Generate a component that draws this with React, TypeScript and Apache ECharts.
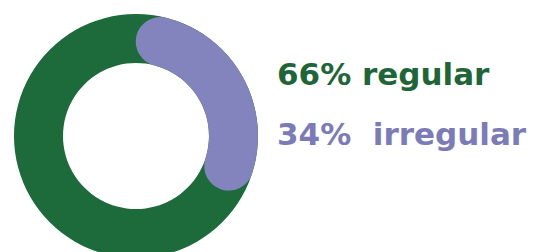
import React, { useEffect, useRef } from "react";
import * as echarts from "echarts";

const categories = ["regular", "irregular"];
const percents = [66, 34];
const colors = ["#1d6a3b", "#8383bd"];
const textColors = ["#1e6638", "#7b7bb8"];
const labels = ["66% regular", "34%  irregular"];

const CX = 136;
const CY = 136;
const R0 = 73;
const R1 = 122;

export default function App() {
  const ref = useRef<HTMLDivElement>(null);
  useEffect(() => {
    if (!ref.current) return;
    const chart = echarts.init(ref.current, undefined, { renderer: "svg" });
    const dr = (R1 - R0) / 2;
    const rc = R0 + dr;
    const capPct = ((dr / rc) / (2 * Math.PI)) * 100;
    const total = percents[0] + percents[1];
    chart.setOption({
      animation: false,
      polar: { center: [CX, CY], radius: [R0, R1] },
      angleAxis: { type: "value", min: 0, max: total, startAngle: 90, clockwise: true, show: false },
      radiusAxis: { type: "category", data: ["share"], show: false },
      series: [
        {
          type: "bar",
          coordinateSystem: "polar",
          name: categories[0],
          data: [total],
          barCategoryGap: "0%",
          barGap: "-100%",
          itemStyle: { color: colors[0] },
          silent: true,
        },
        {
          type: "bar",
          coordinateSystem: "polar",
          name: "offset",
          stack: "p",
          data: [capPct],
          barCategoryGap: "0%",
          barGap: "-100%",
          itemStyle: { color: "rgba(0,0,0,0)" },
          silent: true,
        },
        {
          type: "bar",
          coordinateSystem: "polar",
          name: categories[1],
          stack: "p",
          roundCap: true,
          data: [percents[1] - 2 * capPct],
          barCategoryGap: "0%",
          barGap: "-100%",
          itemStyle: { color: colors[1] },
          silent: true,
        },
      ],
      graphic: labels.map((t, i) => ({
        type: "text",
        x: 277,
        y: i === 0 ? 89 : 149,
        style: {
          text: t,
          fill: textColors[i],
          font: "bold 31px 'DejaVu Sans', sans-serif",
          textBaseline: "alphabetic",
          verticalAlign: "bottom",
        },
      })),
    });
    return () => chart.dispose();
  }, []);
  return <div ref={ref} style={{ width: 548, height: 252, position: "absolute", left: 0, top: 0, background: "#fff" }} />;
}
